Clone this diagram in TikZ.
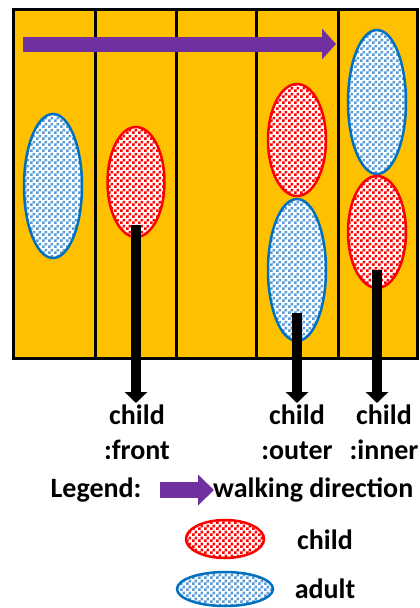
\documentclass[tikz,border=0pt]{standalone}
\usepackage{fontspec}
\setmainfont{Carlito}
\usetikzlibrary{shapes.geometric,patterns,arrows.meta}

\definecolor{laneyellow}{HTML}{FFC000}
\definecolor{walkpurple}{HTML}{7030A0}
\definecolor{adultblue}{HTML}{0070C0}
\definecolor{adultfill}{HTML}{5B9BD5}

\pgfdeclarepatternformonly{finechecker}{\pgfpointorigin}{\pgfqpoint{6pt}{6pt}}{\pgfqpoint{6pt}{6pt}}{
  \pgfpathrectangle{\pgfpointorigin}{\pgfqpoint{3pt}{3pt}}
  \pgfpathrectangle{\pgfqpoint{3pt}{3pt}}{\pgfqpoint{3pt}{3pt}}
  \pgfusepath{fill}}

\begin{document}
\begin{tikzpicture}[x=1pt,y=-1pt,
  kidoval/.style={ellipse, draw=red, line width=2.5pt, inner sep=0pt,
    preaction={fill=white}, pattern=finechecker, pattern color=red},
  grownoval/.style={ellipse, draw=adultblue, line width=2.5pt, inner sep=0pt,
    preaction={fill=white}, pattern=finechecker, pattern color=adultfill},
  stem/.style={line width=10pt, -{Triangle[length=11pt,width=22pt]}, shorten >=2pt},
  walk/.style={walkpurple, line width=15pt, -{Triangle[length=14pt,width=30pt]}},
  lbl/.style={font=\bfseries\fontsize{28}{35}\selectfont, align=center, inner sep=0pt}]
\useasboundingbox (0,0) rectangle (420,608);

  %lanes
  \fill[laneyellow] (13,9) rectangle (417,358);
  \foreach \x in {95,176,256,338}
    \draw[line width=3pt] (\x,9) -- (\x,358);
  \draw[line width=3pt] (13,9) rectangle (417,358);

  %walking direction
  \coordinate (walkS) at (23,44);
  \coordinate (walkE) at (336,44);
  \draw[walk] (walkS) -- (walkE);

  %people
  \node[grownoval, minimum width=58pt, minimum height=144pt] (adA) at (53,186) {};
  \node[kidoval, minimum width=57pt, minimum height=110pt] (front) at (136,182) {};
  \node[kidoval, minimum width=58pt, minimum height=112pt] (outer) at (297,140) {};
  \node[grownoval, minimum width=58pt, minimum height=142pt] (adB) at (297,270) {};
  \node[grownoval, minimum width=58pt, minimum height=144pt] (adC) at (377,102) {};
  \node[kidoval, minimum width=58pt, minimum height=112pt] (inner) at (377,232) {};

  %labels
  \node[lbl, anchor=north] (frontlbl) at (137,405) {child\\:front};
  \node[lbl, anchor=north] (outerlbl) at (297,405) {child\\:outer};
  \node[lbl, anchor=north] (innerlbl) at (384,405) {child\\:inner};

  \draw[stem] ([yshift=13pt]front.south) -- (front.south |- frontlbl.north);
  \draw[stem] ([yshift=29pt]adB.south) -- (adB.south |- outerlbl.north);
  \draw[stem] ([yshift=19pt]inner.south) -- (inner.south |- innerlbl.north);

  %legend
  \node[lbl] (legend) at (96,490) {Legend:};
  \coordinate (legS) at (160,490);
  \coordinate (legE) at (214,490);
  \draw[walk, line width=16pt, -{Triangle[length=16pt,width=30pt]}] (legS) -- (legE);
  \node[lbl, anchor=west] (walklbl) at (213,490) {walking direction};
  \node[kidoval, minimum width=78pt, minimum height=38pt] (kidkey) at (225,539) {};
  \node[lbl] (kidtxt) at (325,540) {child};
  \node[grownoval, minimum width=96pt, minimum height=34pt] (adkey) at (225,589) {};
  \node[lbl] (adtxt) at (325,589) {adult};

\end{tikzpicture}
\end{document}
